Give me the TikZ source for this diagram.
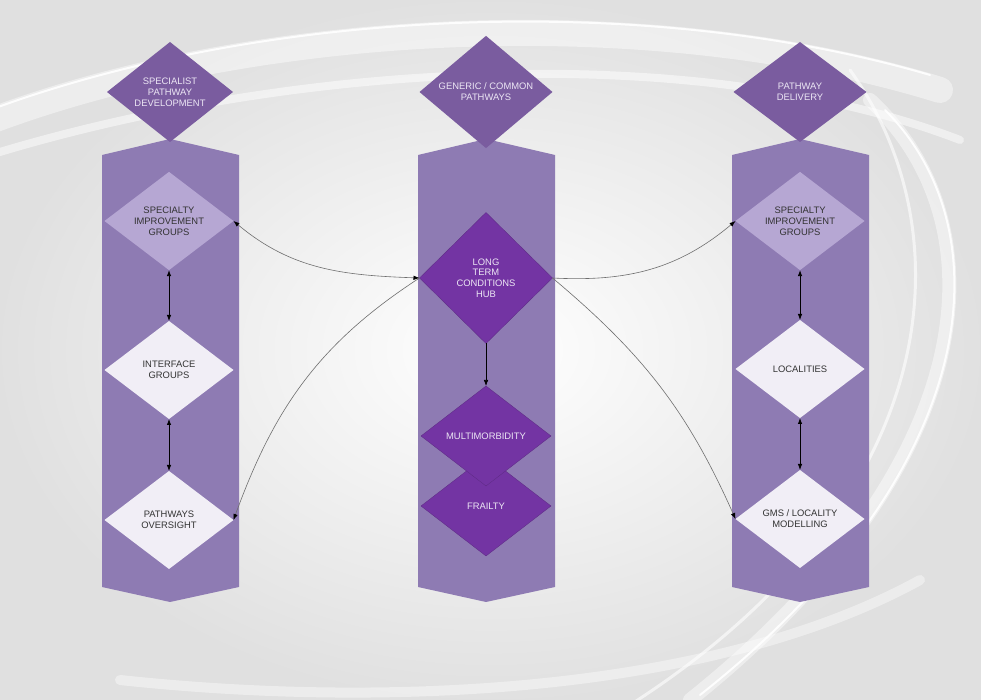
\documentclass[tikz,border=0pt]{standalone}
\usepackage{fontspec}
\setmainfont{Liberation Sans}
\usetikzlibrary{arrows,arrows.meta,shapes,positioning,calc}

\definecolor{bannerpurple}{HTML}{8E7BB3}
\definecolor{headpurple}{HTML}{7A5C9F}
\definecolor{speclilac}{HTML}{B6A7D3}
\definecolor{palelilac}{HTML}{F1EEF6}
\definecolor{hubpurple}{HTML}{7334A3}
\definecolor{headtext}{HTML}{ECE6F4}
\definecolor{darktext}{HTML}{333333}
\definecolor{linkgray}{HTML}{6E6E6E}

\begin{document}
\begin{tikzpicture}[x=1pt,y=1pt,
  >={Latex[length=6pt,width=4.5pt,color=black]},
  dia/.style={diamond,inner sep=0pt,outer sep=0pt,minimum width=129pt,minimum height=98pt,
    align=center,font=\fontsize{9.4}{10.8}\selectfont},
  head/.style={dia,fill=headpurple,text=headtext,minimum height=100pt},
  spec/.style={dia,fill=speclilac,text=darktext},
  pale/.style={dia,fill=palelilac,text=darktext},
  hub/.style={dia,fill=hubpurple,draw=hubpurple!80!black,line width=0.3pt,text=headtext,minimum width=130pt,minimum height=100pt},
  link/.style={draw=linkgray,line width=0.6pt},
  updown/.style={draw=black,line width=0.8pt,<->}]
\useasboundingbox (0,0) rectangle (981,700);
\shade[inner color=white,outer color=gray!24] (0,0) rectangle (981,700);
\begin{scope}[white,line cap=round]
  \draw[line width=26pt,opacity=0.45] (-20,575) .. controls (250,680) and (650,700) .. (940,610);
  \draw[line width=2pt,opacity=0.9] (-10,590) .. controls (260,690) and (640,710) .. (930,625);
  \draw[line width=8pt,opacity=0.5] (-10,545) .. controls (300,640) and (700,660) .. (960,560);
  \draw[line width=14pt,opacity=0.45] (870,600) .. controls (1000,480) and (990,240) .. (690,0);
  \draw[line width=2pt,opacity=0.9] (885,590) .. controls (1005,470) and (985,230) .. (700,5);
  \draw[line width=3pt,opacity=0.6] (850,630) .. controls (965,470) and (950,200) .. (630,-5);
  \draw[line width=10pt,opacity=0.4] (120,20) .. controls (400,-10) and (720,10) .. (920,120);
\end{scope}
\begin{scope}[fill=bannerpurple]
  \foreach \x in {170,486,800}
    \fill (\x-68,545) -- (\x,561) -- (\x+69,545) -- (\x+69,113) -- (\x,98) -- (\x-68,113) -- cycle;
\end{scope}
\node[head,minimum width=126pt] (headL) at (170,608) {SPECIALIST\\PATHWAY\\DEVELOPMENT};
\node[head,minimum width=133pt] (headM) at (486,608) {GENERIC / COMMON\\PATHWAYS};
\node[head,minimum width=133pt] (headR) at (800,608) {PATHWAY\\DELIVERY};
\node[spec] (specL) at (169,479) {SPECIALTY\\IMPROVEMENT\\GROUPS};
\node[pale] (intL) at (169,330) {INTERFACE\\GROUPS};
\node[pale] (overL) at (169,180) {PATHWAYS\\OVERSIGHT};
\node[hub,minimum width=133pt,minimum height=131pt] (ltc) at (486,422) {LONG\\TERM\\CONDITIONS\\HUB};
\node[hub] (frail) at (486,194) {FRAILTY};
\node[hub] (multi) at (486,264) {MULTIMORBIDITY};
\node[spec] (specR) at (800,479) {SPECIALTY\\IMPROVEMENT\\GROUPS};
\node[pale] (local) at (800,331) {LOCALITIES};
\node[pale] (gms) at (800,181) {GMS / LOCALITY\\MODELLING};
\draw[updown] (specL.south) -- (intL.north);
\draw[updown] (intL.south) -- (overL.north);
\draw[updown] (specR.south) -- (local.north);
\draw[updown] (local.south) -- (gms.north);
\draw[draw=black,line width=0.6pt,->] (ltc.south) -- (multi.north);
\draw[link,<->] (ltc.west) to[out=178,in=-40] (specL.east);
\draw[link,->] (ltc.west) to[out=213,in=70] (overL.east);
\draw[link,->] (ltc.east) to[out=-3,in=220] (specR.west);
\draw[link,->] (ltc.east) to[out=-40,in=114] (gms.west);
\end{tikzpicture}
\end{document}
